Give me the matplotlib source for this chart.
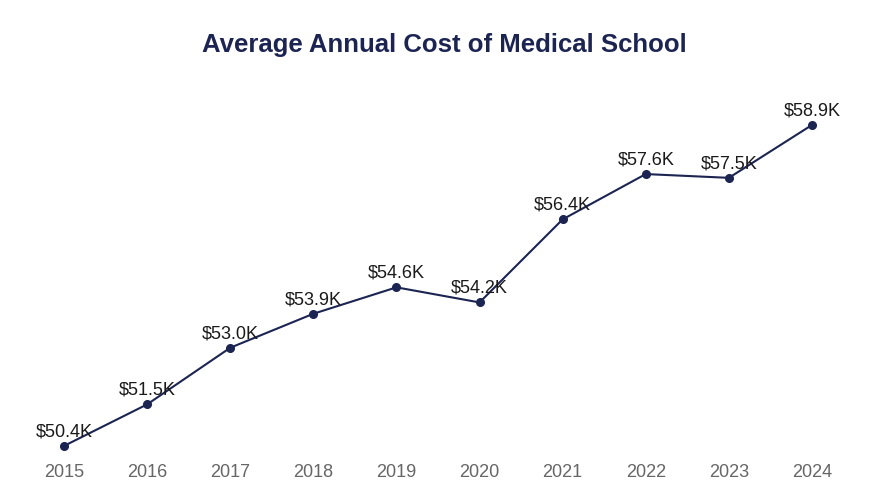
import matplotlib
matplotlib.use("Agg")
import matplotlib.pyplot as plt

years = [2015, 2016, 2017, 2018, 2019, 2020, 2021, 2022, 2023, 2024]
cost_k = [50.4, 51.5, 53.0, 53.9, 54.6, 54.2, 56.4, 57.6, 57.5, 58.9]

navy = "#1c2452"

plt.rcParams['font.family'] = ['Liberation Sans', 'DejaVu Sans']

fig = plt.figure(figsize=(8.7, 4.92), dpi=100)
ax = fig.add_axes([22.5 / 870, 0.063, 831 / 870, 0.729])

ax.plot(years, cost_k, color=navy, linewidth=1.5, marker="o", markersize=5.5, zorder=3)
for x, y in zip(years, cost_k):
    ax.annotate(f"${y:.1f}K", (x, y), xytext=(0, 4), textcoords="offset points",
                ha="center", va="bottom", fontsize=13, color="#1a1a1a")

ax.set_xlim(2014.5, 2024.5)
ax.set_ylim(50, 59.5)
ax.set_xticks(years)
ax.set_xticklabels([str(y) for y in years])
ax.set_yticks([])
ax.tick_params(axis="x", length=0, pad=2, labelsize=13, labelcolor="#666666")
for s in ax.spines.values():
    s.set_visible(False)

fig.text(0.511, 0.908, "Average Annual Cost of Medical School", ha="center", va="center",
         fontsize=18.5, fontweight="bold", color=navy)

fig.savefig("out.png", dpi=100)
